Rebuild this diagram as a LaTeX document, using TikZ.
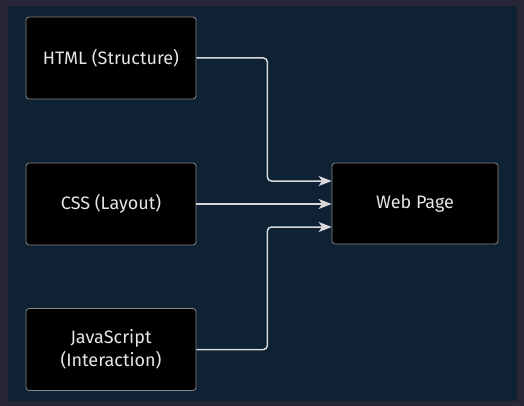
\documentclass[tikz,border=0pt]{standalone}
\usepackage{fontspec}
\setmainfont{Fira Sans}
\usepackage{xcolor}
\usetikzlibrary{arrows.meta, positioning}

\definecolor{frameback}{HTML}{262637}
\definecolor{panelback}{HTML}{0F2233}
\definecolor{boxline}{HTML}{8A8A8A}
\definecolor{flowline}{HTML}{D8D8D8}
\definecolor{boxtext}{HTML}{E6E6E6}

\tikzset{
  partbox/.style={draw=boxline, line width=0.8pt, fill=black, rounded corners=3pt,
    minimum width=170pt, minimum height=82pt, align=center,
    text=boxtext, font=\fontsize{18}{23}\selectfont},
  flow/.style={draw=flowline, line width=1.5pt, rounded corners=4pt,
    -{Stealth[length=13pt, width=10pt, inset=3.5pt]}}
}

\begin{document}
\begin{tikzpicture}[x=1pt, y=-1pt]
    \fill[frameback] (0,0) rectangle (524,406);
    \useasboundingbox (0,0) rectangle (524,406);
    \fill[panelback] (8,6) rectangle (517,401);

    \node[partbox] (html) at (111,58) {HTML (Structure)};
    \node[partbox] (css) at (111,204) {CSS (Layout)};
    \node[partbox] (js) at (111,349.5) {JavaScript\\(Interaction)};
    \node[partbox, minimum width=166pt, minimum height=81pt] (page) at (415,203.5) {Web Page};

    \draw[flow] (html.east) -- ++(71,0) |- ([yshift=22.5pt]page.west);
    \draw[flow] (css.east) -- (css.east -| page.west);
    \draw[flow] (js.east) -- ++(71,0) |- ([yshift=-23.5pt]page.west);
  \end{tikzpicture}
\end{document}
